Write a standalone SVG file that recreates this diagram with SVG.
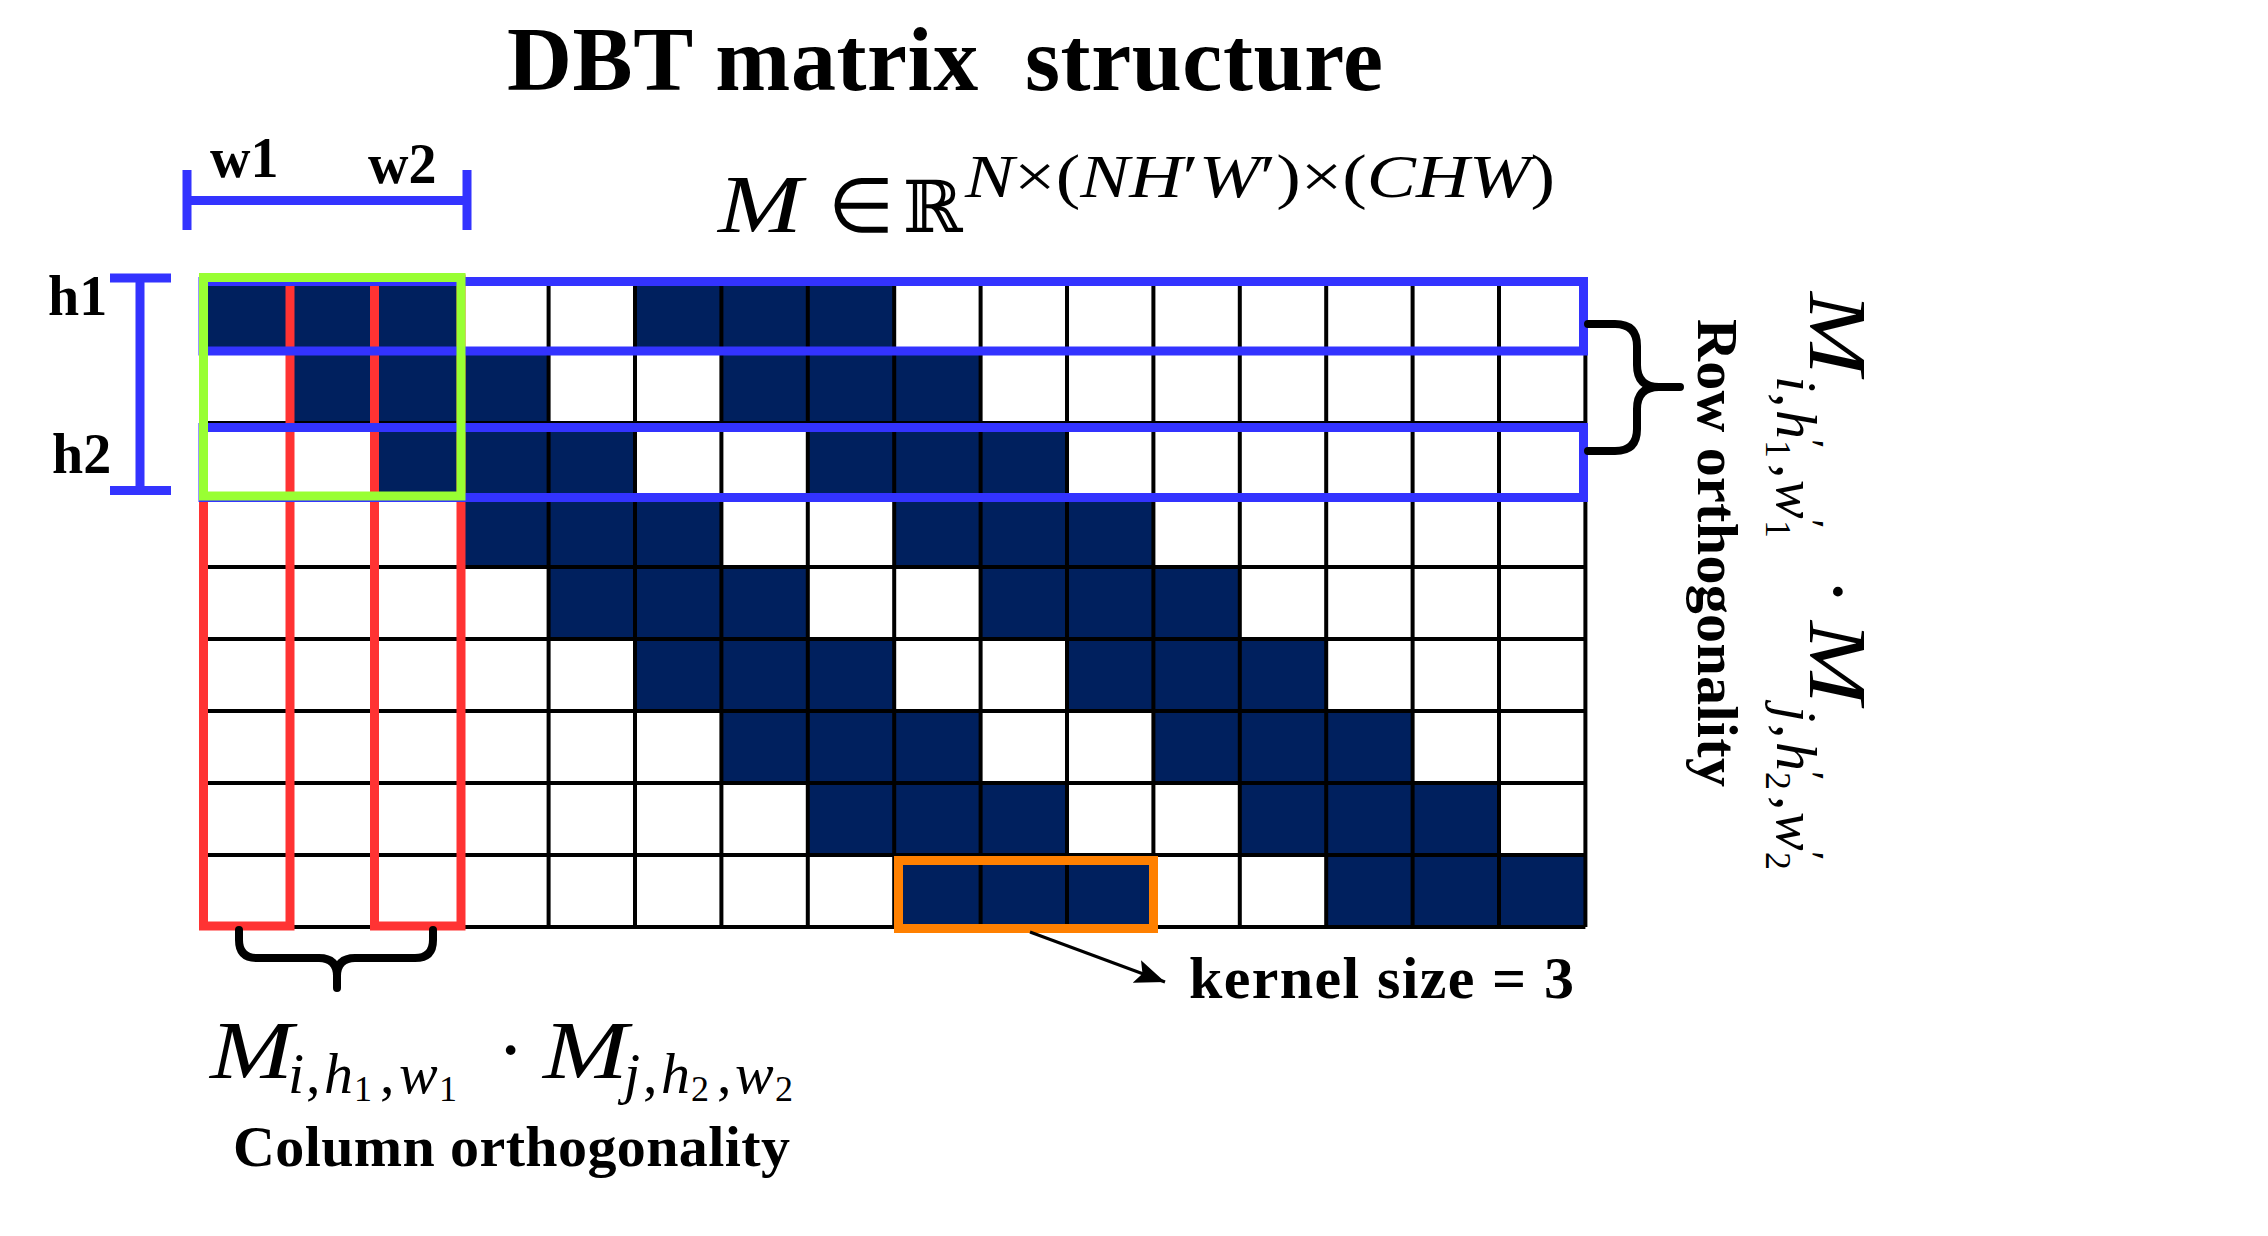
<svg xmlns="http://www.w3.org/2000/svg" width="2268" height="1236" viewBox="0 0 2268 1236">
<style>
.f{fill:#00205e}
.grid{stroke:#000;stroke-width:4;fill:none}
.blue{stroke:#3333ff;stroke-width:9;fill:none}
.red{stroke:#ff3333;stroke-width:9;fill:none}
.brace{stroke:#000;stroke-width:8;fill:none;stroke-linecap:round;stroke-linejoin:round}
.lbl{font-family:"Liberation Serif","Times New Roman",serif;font-weight:bold;fill:#000}
.m{font-family:"Liberation Serif","Times New Roman",serif;font-style:italic;fill:#000}
.n{font-family:"Liberation Serif","Times New Roman",serif;font-style:normal;fill:#000}
</style>
<defs>
<marker id="arr" markerUnits="userSpaceOnUse" markerWidth="32" markerHeight="26" refX="30" refY="12" orient="auto">
<path d="M0,0 L30,12 L0,24 L6,12 z" fill="#000"/>
</marker>
</defs>
<rect width="2268" height="1236" fill="#fff"/>

<g id="title">
<text class="lbl" x="507" y="90" font-size="90" textLength="876" xml:space="preserve">DBT matrix  structure</text>
</g>

<g id="matrix-formula">
<text class="m" x="718" y="232" font-size="82" textLength="84" lengthAdjust="spacingAndGlyphs">M</text>
<text class="n" x="828" y="232" font-size="76">∈</text>
<text x="903" y="232" font-size="72" font-family="DejaVu Serif,DejaVu Sans,serif">ℝ</text>
<text class="m" x="965" y="197" font-size="62" textLength="590" lengthAdjust="spacingAndGlyphs">N<tspan class="n">×(</tspan>NH<tspan class="n">′</tspan>W<tspan class="n">′)×(</tspan>CHW<tspan class="n">)</tspan></text>
</g>

<g id="matrix">
<g id="cells">
<rect class="f" x="203" y="279" width="259.2" height="72"/><rect class="f" x="635" y="279" width="259.2" height="72"/>
<rect class="f" x="289.4" y="351" width="259.2" height="72"/><rect class="f" x="721.4" y="351" width="259.2" height="72"/>
<rect class="f" x="375.8" y="423" width="259.2" height="72"/><rect class="f" x="807.8" y="423" width="259.2" height="72"/>
<rect class="f" x="462.2" y="495" width="259.2" height="72"/><rect class="f" x="894.2" y="495" width="259.2" height="72"/>
<rect class="f" x="548.6" y="567" width="259.2" height="72"/><rect class="f" x="980.6" y="567" width="259.2" height="72"/>
<rect class="f" x="635" y="639" width="259.2" height="72"/><rect class="f" x="1067" y="639" width="259.2" height="72"/>
<rect class="f" x="721.4" y="711" width="259.2" height="72"/><rect class="f" x="1153.4" y="711" width="259.2" height="72"/>
<rect class="f" x="807.8" y="783" width="259.2" height="72"/><rect class="f" x="1239.8" y="783" width="259.2" height="72"/>
<rect class="f" x="894.2" y="855" width="259.2" height="72"/><rect class="f" x="1326.2" y="855" width="259.2" height="72"/>
</g>
<path class="grid" d="M203 279H1585.4M203 351H1585.4M203 423H1585.4M203 495H1585.4M203 567H1585.4M203 639H1585.4M203 711H1585.4M203 783H1585.4M203 855H1585.4M203 927H1585.4
M203 279V927M289.4 279V927M375.8 279V927M462.2 279V927M548.6 279V927M635 279V927M721.4 279V927M807.8 279V927M894.2 279V927M980.6 279V927M1067 279V927M1153.4 279V927M1239.8 279V927M1326.2 279V927M1412.6 279V927M1499 279V927M1585.4 279V927"/>
</g>

<g id="column-highlights">
<rect class="red" x="203.5" y="279" width="86.5" height="647"/>
<rect class="red" x="374.5" y="279" width="86.5" height="647"/>
</g>

<g id="row-highlights">
<rect class="blue" x="203" y="281.5" width="1380.5" height="69.5"/>
<rect class="blue" x="203" y="427.5" width="1380.5" height="70"/>
</g>

<g id="block-highlight">
<rect x="203.5" y="277.5" width="257.5" height="218.5" fill="none" stroke="#99ff33" stroke-width="9"/>
</g>

<g id="kernel-highlight">
<rect x="898.5" y="860.5" width="255" height="68" fill="none" stroke="#ff8000" stroke-width="9"/>
</g>

<g id="w-bracket">
<path class="blue" d="M187 200.5H467M187 170V230M467 170V230"/>
<text class="lbl" x="210" y="177" font-size="56">w1</text>
<text class="lbl" x="368" y="183" font-size="56">w2</text>
</g>

<g id="h-bracket">
<path class="blue" d="M140 278V490.5M110 278H171M110 490.5H171"/>
<text class="lbl" x="48" y="315" font-size="56">h1</text>
<text class="lbl" x="52" y="473" font-size="56">h2</text>
</g>

<g id="row-brace">
<path class="brace" d="M1588 324H1615Q1637 324 1637 346V365Q1637 387 1659 387H1680M1659 387Q1637 387 1637 409V429Q1637 451 1615 451H1588"/>
</g>

<g id="row-label">
<text class="lbl" font-size="58" transform="translate(1698,319) rotate(90)" x="0" y="0" textLength="468">Row orthogonality</text>
<g transform="translate(1810,292) rotate(90)">
<text class="m" x="0" y="0" font-size="82" textLength="83" lengthAdjust="spacingAndGlyphs">M</text>
<text class="m" x="84" y="33" font-size="58">i</text>
<text class="n" x="101" y="33" font-size="58">,</text>
<text class="m" x="118" y="33" font-size="58">h</text>
<text class="n" x="147" y="16" font-size="44">′</text>
<text class="n" x="148" y="44" font-size="36">1</text>
<text class="n" x="172" y="33" font-size="58">,</text>
<text class="m" x="188" y="33" font-size="58">w</text>
<text class="n" x="227" y="16" font-size="44">′</text>
<text class="n" x="228" y="44" font-size="36">1</text>
<text class="n" x="286" y="0" font-size="82">·</text>
<text class="m" x="329" y="0" font-size="82" textLength="83" lengthAdjust="spacingAndGlyphs">M</text>
<text class="m" x="414" y="33" font-size="58">j</text>
<text class="n" x="432" y="33" font-size="58">,</text>
<text class="m" x="450" y="33" font-size="58">h</text>
<text class="n" x="479" y="16" font-size="44">′</text>
<text class="n" x="480" y="44" font-size="36">2</text>
<text class="n" x="504" y="33" font-size="58">,</text>
<text class="m" x="520" y="33" font-size="58">w</text>
<text class="n" x="559" y="16" font-size="44">′</text>
<text class="n" x="560" y="44" font-size="36">2</text>
</g>
</g>

<g id="column-brace">
<path class="brace" d="M239 930V940Q239 958 257 958H319Q337 958 337 976V988M337 976Q337 958 355 958H415Q433 958 433 940V930"/>
</g>

<g id="column-label">
<text class="m" x="210" y="1078" font-size="82" textLength="83" lengthAdjust="spacingAndGlyphs">M</text>
<text class="m" x="288" y="1093" font-size="58">i</text>
<text class="n" x="306" y="1093" font-size="58">,</text>
<text class="m" x="324" y="1093" font-size="58">h</text>
<text class="n" x="354" y="1101" font-size="36">1</text>
<text class="n" x="380" y="1093" font-size="58">,</text>
<text class="m" x="399" y="1093" font-size="58">w</text>
<text class="n" x="439" y="1101" font-size="36">1</text>
<text class="n" x="497" y="1078" font-size="82">·</text>
<text class="m" x="543" y="1078" font-size="82" textLength="85" lengthAdjust="spacingAndGlyphs">M</text>
<text class="m" x="624" y="1093" font-size="58">j</text>
<text class="n" x="643" y="1093" font-size="58">,</text>
<text class="m" x="661" y="1093" font-size="58">h</text>
<text class="n" x="691" y="1101" font-size="36">2</text>
<text class="n" x="717" y="1093" font-size="58">,</text>
<text class="m" x="735" y="1093" font-size="58">w</text>
<text class="n" x="775" y="1101" font-size="36">2</text>
<text class="lbl" x="233" y="1166" font-size="58" textLength="557">Column orthogonality</text>
</g>

<g id="connectors">
<line x1="1030" y1="932" x2="1165" y2="982" stroke="#000" stroke-width="3" marker-end="url(#arr)"/>
</g>

<g id="kernel-label">
<text class="lbl" x="1189" y="998" font-size="60" textLength="385">kernel size = 3</text>
</g>
</svg>
